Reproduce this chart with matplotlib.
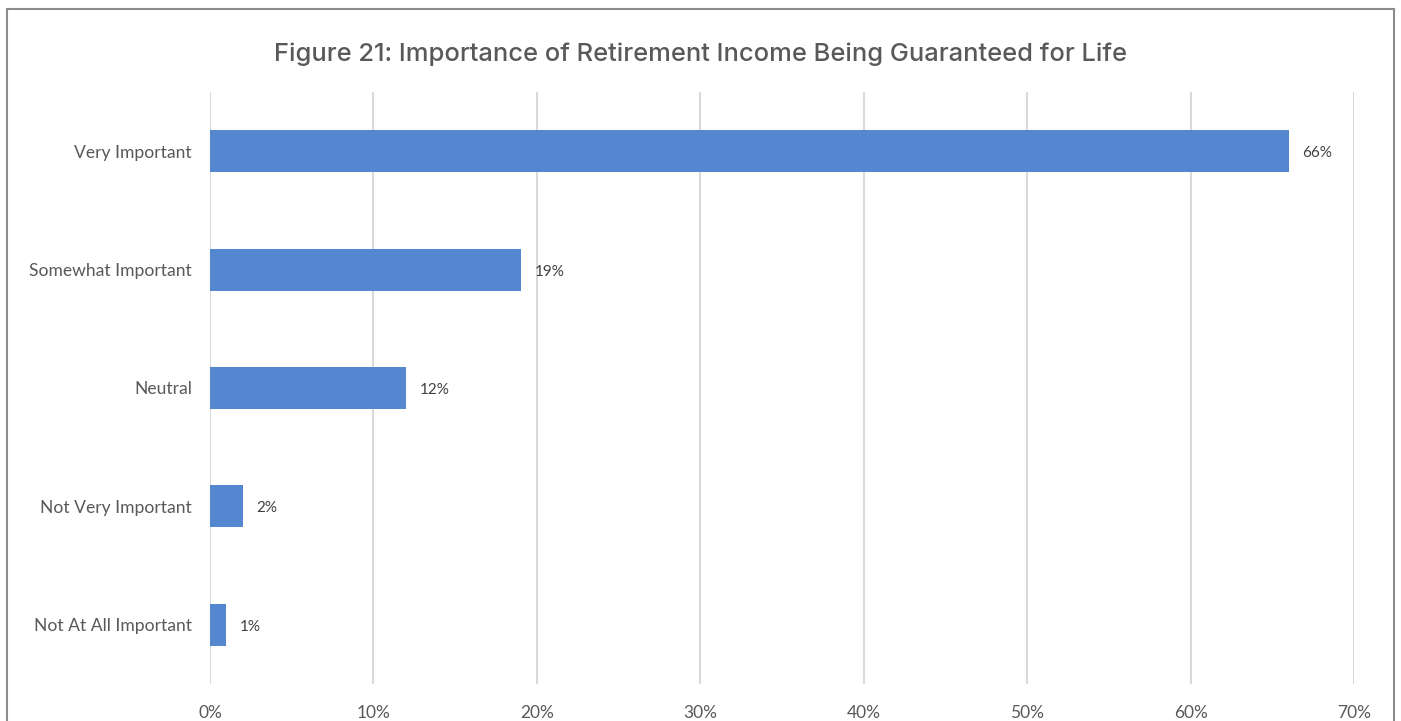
import matplotlib
matplotlib.use("Agg")
import matplotlib.pyplot as plt
from matplotlib.lines import Line2D

categories = ['Very Important', 'Somewhat Important', 'Neutral', 'Not Very Important', 'Not At All Important']
values = [66, 19, 12, 2, 1]
labels = ['66%', '19%', '12%', '2%', '1%']
xticks = [0, 10, 20, 30, 40, 50, 60, 70]

fig = plt.figure(figsize=(14.01, 7.21), dpi=100)
ax = fig.add_axes([210/1401, 1-684/721, (1354-210)/1401, (684-92)/721])

pos = list(range(len(categories)))
ax.barh(pos, values, height=0.355, color='#5587d0', zorder=3)
ax.set_ylim(len(categories)-0.5, -0.5)
ax.set_xlim(0, 70)
ax.set_yticks(pos)
ax.set_yticklabels(categories, fontsize=12.6, color='#595959', family='Lato')
ax.set_xticks(xticks)
ax.set_xticklabels([f'{t}%' for t in xticks], fontsize=12.5, color='#595959', family='Lato')
ax.tick_params(axis='both', length=0)
ax.tick_params(axis='x', pad=15)
ax.tick_params(axis='y', pad=13)
ax.grid(axis='x', color='#d9d9d9', linewidth=1.5, zorder=0)
for s in ax.spines.values():
    s.set_visible(False)

for p, v, lab in zip(pos, values, labels):
    ax.annotate(lab, (v, p), xytext=(10, -1.5), textcoords='offset points',
                va='center', ha='left', fontsize=11, color='#404040', family='Lato')

fig.text(0.5, 1-54/721, 'Figure 21: Importance of Retirement Income Being Guaranteed for Life',
         ha='center', va='center', fontsize=18.4, fontweight='medium', color='#595959', family='Inter')

# outer frame (bottom edge runs off the image)
x0, x1, yt = 7/1401, 1394/1401, 1-9/721
for xs, ys in [([x0, x0], [-0.1, yt]), ([x0, x1], [yt, yt]), ([x1, x1], [yt, -0.1])]:
    fig.add_artist(Line2D(xs, ys, transform=fig.transFigure, color='#8c8c8c', linewidth=1.5))

fig.savefig('out.png', dpi=100)
